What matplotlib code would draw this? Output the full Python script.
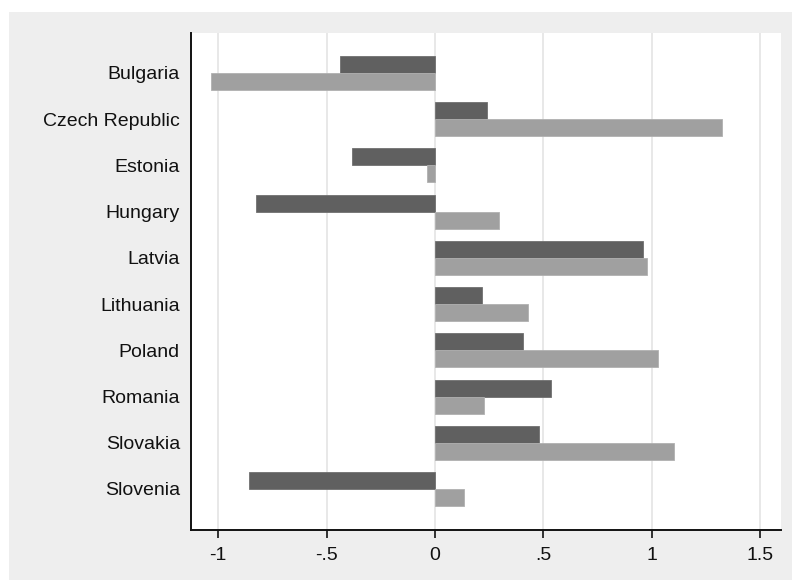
import matplotlib.pyplot as plt
import matplotlib.patches as mpatches
import numpy as np

plt.rcParams['font.family'] = ['Liberation Sans', 'DejaVu Sans']

countries = ["Bulgaria", "Czech Republic", "Estonia", "Hungary", "Latvia",
             "Lithuania", "Poland", "Romania", "Slovakia", "Slovenia"]
series_a = [-0.44, 0.24, -0.385, -0.825, 0.96, 0.215, 0.405, 0.535, 0.48, -0.86]
series_b = [-1.035, 1.325, -0.035, 0.295, 0.978, 0.43, 1.03, 0.225, 1.105, 0.135]
xticks = [-1, -0.5, 0, 0.5, 1, 1.5]
xtick_labels = ["-1", "-.5", "0", ".5", "1", "1.5"]

dark = "#606060"
light = "#a0a0a0"
bg = "#eeeeee"

fig = plt.figure(figsize=(7.92, 5.80), dpi=100)
fig.patch.set_facecolor("white")
# grey graph region (offset from the top-left corner)
fig.patches.append(mpatches.Rectangle((9 / 792, 0), 1 - 9 / 792, 1 - 12 / 580,
                                      transform=fig.transFigure, facecolor=bg,
                                      edgecolor="none", zorder=-10))

ax = fig.add_axes([191 / 792, 50 / 580, 590 / 792, 497 / 580])
ax.set_facecolor("white")

pos = np.arange(len(countries))
h = 0.368
ax.barh(pos - h / 2, series_a, height=h, color=dark, edgecolor="#707070", linewidth=0.6, zorder=3)
ax.barh(pos + h / 2, series_b, height=h, color=light, edgecolor="#b0b0b0", linewidth=0.6, zorder=3)

ax.set_xlim(-1.126, 1.597)
ax.set_ylim(9.887, -0.865)
ax.set_xticks(xticks)
ax.set_xticklabels(xtick_labels)
ax.set_yticks(pos)
ax.set_yticklabels(countries)

ax.xaxis.grid(True, color="#e4e4e4", linewidth=1.2, zorder=0)
ax.set_axisbelow(True)

for side in ["top", "right"]:
    ax.spines[side].set_visible(False)
for side in ["left", "bottom"]:
    ax.spines[side].set_linewidth(1.4)
    ax.spines[side].set_color("#111111")

ax.tick_params(axis="x", length=6, width=1.2, direction="out", labelsize=14, pad=6, colors="#111111")
ax.tick_params(axis="y", length=0, labelsize=14, pad=8, colors="#111111")

fig.savefig("out.png", dpi=100, facecolor=fig.get_facecolor())
